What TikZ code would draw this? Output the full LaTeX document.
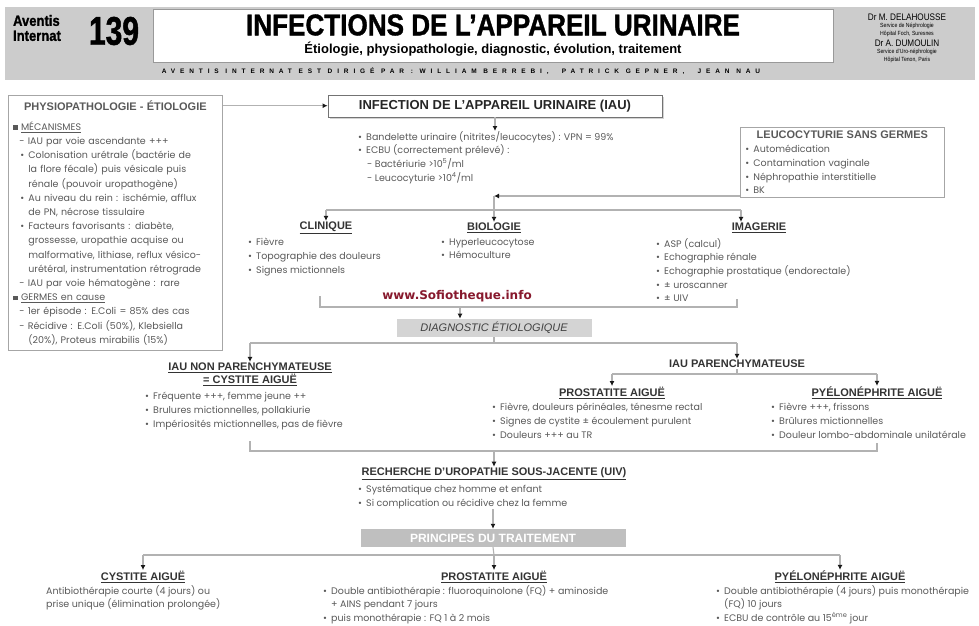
\documentclass[tikz,border=0pt]{standalone}
\usepackage{fontspec}
\setmainfont{Poppins}
\newfontfamily\hdfont{Liberation Sans}
\newfontfamily\cnfont[FakeStretch=0.86]{Liberation Sans}
\newfontfamily\bkfont[FakeStretch=0.87, FakeBold=1.2]{Liberation Sans}
\newfontfamily\nmfont[FakeStretch=0.75, FakeBold=1.2]{Liberation Sans}
\newfontfamily\spfont[LetterSpace=75]{Liberation Sans}
\newfontfamily\wmfont{DejaVu Sans}
\usetikzlibrary{arrows.meta,shapes.multipart,shadows}

\definecolor{bandgray}{gray}{0.8}
\definecolor{wmred}{RGB}{135,25,45}
\newcommand\bl{\makebox[8pt][l]{\textbullet}}
\newcommand\sqb{\rule[0.5pt]{4.5pt}{4.5pt}}
\newcommand\ctr[1]{\hspace*{\fill}#1\hspace*{\fill}}

\begin{document}
\begin{tikzpicture}[x=1pt,y=-1pt,
    link/.style={draw=black!30, line width=1.1pt},
    arr/.style={link, -{Latex[length=5pt,width=5pt,color=black!90]}},
    head/.style={font=\hdfont\bfseries\fontsize{11}{13}\selectfont, text=black!80, inner sep=1pt, align=center},
    blist/.style={font=\fontsize{9.5}{13.7}\selectfont, text=black!65, align=left, anchor=north west, inner sep=0pt},
    panel/.style={rectangle split, rectangle split parts=2, rectangle split draw splits=false, draw=black!35,
      line width=0.8pt, align=left, anchor=north west, inner xsep=5pt, text=black!65}]
  \useasboundingbox (0,0) rectangle (979,625);

  % Header
  \fill[bandgray] (5,7) rectangle (975,80);
  \node[draw=black!40, fill=white, line width=0.8pt, minimum width=680pt, minimum height=53pt, anchor=north west] (tbox) at (153,9) {};
  \node[font=\bkfont\bfseries\fontsize{15}{15}\selectfont, align=left, inner sep=0pt] (brand) at (37,28) {Aventis\\Internat};
  \node[font=\nmfont\bfseries\fontsize{40}{40}\selectfont, inner sep=0pt] (num) at (114,31) {139};
  \node[font=\bkfont\bfseries\fontsize{30}{30}\selectfont, inner sep=0pt] (title) at (493,25) {INFECTIONS DE L’APPAREIL URINAIRE};
  \node[font=\hdfont\bfseries\fontsize{13}{15}\selectfont, inner sep=0pt] (subtitle) at (493,49) {Étiologie, physiopathologie, diagnostic, évolution, traitement};
  \node[font=\spfont\bfseries\fontsize{6.5}{7}\selectfont, inner sep=0pt] (credit) at (461,71) {AVENTIS INTERNAT EST DIRIGÉ PAR : WILLIAM BERREBI, \ PATRICK GEPNER, \ JEAN NAU};
  \node[align=center, font=\cnfont\fontsize{6}{7.5}\selectfont, inner sep=0pt] (auth) at (907,38)
    {{\fontsize{9.5}{9}\selectfont Dr M. DELAHOUSSE}\\Service de Néphrologie\\Hôpital Foch, Suresnes\\[2pt]
     {\fontsize{9.5}{9}\selectfont Dr A. DUMOULIN}\\Service d’Uro-néphrologie\\Hôpital Tenon, Paris};

  % Define nodes
  \node[panel, text width=204pt, inner ysep=5pt, font=\fontsize{9.5}{14.2}\selectfont] (physio) at (8,95)
    {\ctr{\hdfont\bfseries\fontsize{11}{12}\selectfont PHYSIOPATHOLOGIE - ÉTIOLOGIE}
     \nodepart{two}
     \sqb\ \underline{MÉCANISMES}\\
     \hspace*{6pt}- IAU par voie ascendante +++\\
     \hspace*{7pt}\bl Colonisation urétrale (bactérie de\\
     \hspace*{15pt}la flore fécale) puis vésicale puis\\
     \hspace*{15pt}rénale (pouvoir uropathogène)\\
     \hspace*{7pt}\bl Au niveau du rein : ischémie, afflux\\
     \hspace*{15pt}de PN, nécrose tissulaire\\
     \hspace*{7pt}\bl Facteurs favorisants : diabète,\\
     \hspace*{15pt}grossesse, uropathie acquise ou\\
     \hspace*{15pt}malformative, lithiase, reflux vésico-\\
     \hspace*{15pt}urétéral, instrumentation rétrograde\\
     \hspace*{6pt}- IAU par voie hématogène : rare\\
     \sqb\ \underline{GERMES en cause}\\
     \hspace*{6pt}- 1er épisode : E.Coli = 85\% des cas\\
     \hspace*{6pt}- Récidive : E.Coli (50\%), Klebsiella\\
     \hspace*{15pt}(20\%), Proteus mirabilis (15\%)};
  \node[draw=black!55, line width=0.8pt, fill=white, drop shadow={opacity=0.35, shadow xshift=1.5pt, shadow yshift=-1.5pt},
    minimum width=334pt, minimum height=22pt, font=\hdfont\bfseries\fontsize{13}{15}\selectfont, text=black!85] (iau) at (495,106)
    {INFECTION DE L’APPAREIL URINAIRE (IAU)};
  \node[blist] (iaulist) at (358,131)
    {\bl Bandelette urinaire (nitrites/leucocytes) : VPN = 99\%\\
     \bl ECBU (correctement prélevé) :\\
     \hspace*{9pt}- Bactériurie >10\textsuperscript{5}/ml\\
     \hspace*{9pt}- Leucocyturie >10\textsuperscript{4}/ml};
  \node[panel, text width=194pt, inner ysep=3pt, font=\fontsize{9.5}{13.7}\selectfont] (leuco) at (740,127)
    {\ctr{\hdfont\bfseries\fontsize{11}{12}\selectfont LEUCOCYTURIE SANS GERMES}
     \nodepart{two}
     \bl Automédication\\ \bl Contamination vaginale\\ \bl Néphropathie interstitielle\\ \bl BK};

  \node[head] (clin) at (326,228) {\underline{CLINIQUE}};
  \node[head] (bio) at (494,228) {\underline{BIOLOGIE}};
  \node[head] (imag) at (759,228) {\underline{IMAGERIE}};
  \node[blist] (clinlist) at (248,238) {\bl Fièvre\\ \bl Topographie des douleurs\\ \bl Signes mictionnels};
  \node[blist] (biolist) at (441,238) {\bl Hyperleucocytose\\ \bl Hémoculture};
  \node[blist] (imaglist) at (656,238)
    {\bl ASP (calcul)\\ \bl Echographie rénale\\ \bl Echographie prostatique (endorectale)\\ \bl ± uroscanner\\ \bl ± UIV};
  \node[font=\wmfont\bfseries\fontsize{12}{14}\selectfont, text=wmred] (wm) at (457,296) {www.Sofiotheque.info};
  \node[fill=black!17, minimum width=195pt, minimum height=17pt, font=\hdfont\itshape\fontsize{11}{12}\selectfont, text=black!75] (diag) at (494,328)
    {DIAGNOSTIC ÉTIOLOGIQUE};

  \node[head] (nonp) at (250,374.5) {\underline{IAU NON PARENCHYMATEUSE}\\ \underline{= CYSTITE AIGUË}};
  \node[blist] (nonplist) at (145,392)
    {\bl Fréquente +++, femme jeune ++\\ \bl Brulures mictionnelles, pollakiurie\\ \bl Impériosités mictionnelles, pas de fièvre};
  \node[head] (parench) at (737,364) {IAU PARENCHYMATEUSE};
  \node[head] (pros) at (612,393) {\underline{PROSTATITE AIGUË}};
  \node[head] (pyelo) at (877,393) {\underline{PYÉLONÉPHRITE AIGUË}};
  \node[blist] (proslist) at (492,403)
    {\bl Fièvre, douleurs périnéales, ténesme rectal\\ \bl Signes de cystite ± écoulement purulent\\ \bl Douleurs +++ au TR};
  \node[blist] (pyelolist) at (771,403)
    {\bl Fièvre +++, frissons\\ \bl Brûlures mictionnelles\\ \bl Douleur lombo-abdominale unilatérale};

  \node[head] (rech) at (494,474) {\underline{RECHERCHE D’UROPATHIE SOUS-JACENTE (UIV)}};
  \node[blist] (rechlist) at (358,485)
    {\bl Systématique chez homme et enfant\\ \bl Si complication ou récidive chez la femme};
  \node[fill=black!25, minimum width=265pt, minimum height=18pt, font=\hdfont\bfseries\fontsize{12}{13}\selectfont, text=white] (princ) at (493,538)
    {PRINCIPES DU TRAITEMENT};

  \node[head] (tcys) at (143,577) {\underline{CYSTITE AIGUË}};
  \node[head] (tpros) at (494,577) {\underline{PROSTATITE AIGUË}};
  \node[head] (tpyelo) at (840,577) {\underline{PYÉLONÉPHRITE AIGUË}};
  \node[blist] (tcyslist) at (46,585)
    {Antibiothérapie courte (4 jours) ou\\ prise unique (élimination prolongée)};
  \node[blist] (tproslist) at (323,585)
    {\bl Double antibiothérapie : fluoroquinolone (FQ) + aminoside\\ \hspace*{8pt}+ AINS pendant 7 jours\\ \bl puis monothérapie : FQ 1 à 2 mois};
  \node[blist] (tpyelolist) at (716,585)
    {\bl Double antibiothérapie (4 jours) puis monothérapie\\ \hspace*{8pt}(FQ) 10 jours\\ \bl ECBU de contrôle au 15\textsuperscript{ème} jour};

  % Connect nodes
  \draw[arr] (physio.text east) -- (physio.text east -| iau.west);
  \draw[arr] (iau.south) -- (iau.south |- iaulist.north);
  \coordinate (jn1) at (494,196);
  \coordinate (br1) at (494,210);
  \coordinate (brc) at (326,210);
  \coordinate (bri) at (741,210);
  \draw[arr] (leuco.west |- jn1) -- (jn1);
  \draw[link] (jn1) -- (br1);
  \draw[link] (brc) -- (bri);
  \draw[arr] (brc) -- (clin.north);
  \draw[arr] (br1) -- (bio.north);
  \draw[arr] (bri) -- (bri |- imag.north);

  \coordinate (cl) at (320,296);
  \coordinate (cr) at (737,299);
  \coordinate (jn2) at (460,307);
  \draw[link] (cl) |- (jn2) -| (cr);
  \draw[arr] (jn2) -- (jn2 |- diag.north);

  \coordinate (jn3) at (494,343);
  \draw[link] (diag.south) -- (jn3);
  \draw[link] (nonp.north |- jn3) -- (parench.north |- jn3);
  \draw[arr] (nonp.north |- jn3) -- (nonp.north);
  \draw[arr] (parench.north |- jn3) -- (parench.north);

  \coordinate (jn4) at (737,374);
  \draw[link] (parench.south) -- (jn4);
  \draw[link] (pros.north |- jn4) -- (pyelo.north |- jn4);
  \draw[arr] (pros.north |- jn4) -- (pros.north);
  \draw[arr] (pyelo.north |- jn4) -- (pyelo.north);

  \coordinate (cl2) at (250,441);
  \coordinate (cr2) at (877,443);
  \coordinate (jn5) at (494,451);
  \draw[link] (cl2) |- (jn5) -| (cr2);
  \draw[arr] (jn5) -- (rech.north);
  \draw[arr] (princ.north |- rechlist.south) -- (princ.north);

  \coordinate (jn6) at (494,555);
  \draw[link] (princ.south) -- (jn6);
  \draw[link] (tcys.north |- jn6) -- (tpyelo.north |- jn6);
  \draw[arr] (tcys.north |- jn6) -- (tcys.north);
  \draw[arr] (jn6) -- (tpros.north);
  \draw[arr] (tpyelo.north |- jn6) -- (tpyelo.north);
\end{tikzpicture}
\end{document}
